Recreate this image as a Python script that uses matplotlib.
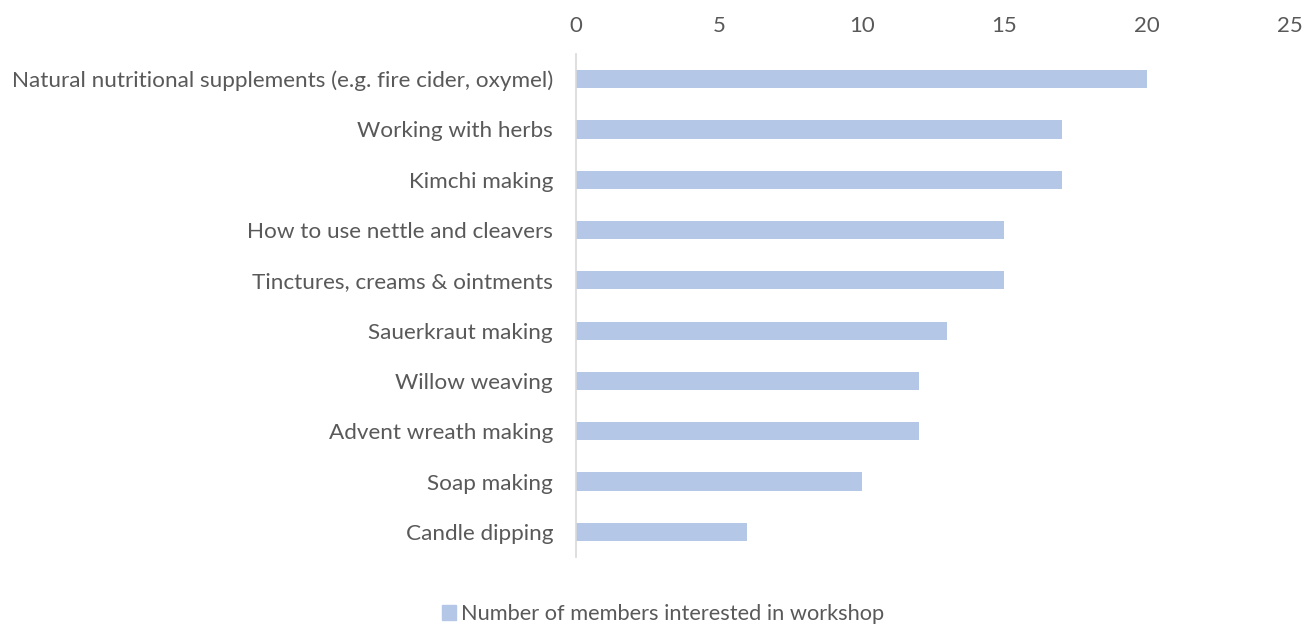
import matplotlib.pyplot as plt
from matplotlib.patches import Patch

workshops = [
    "Natural nutritional supplements (e.g. fire cider, oxymel)",
    "Working with herbs",
    "Kimchi making",
    "How to use nettle and cleavers",
    "Tinctures, creams & ointments",
    "Sauerkraut making",
    "Willow weaving",
    "Advent wreath making",
    "Soap making",
    "Candle dipping",
]
members = [20, 17, 17, 15, 15, 13, 12, 12, 10, 6]
series_name = "Number of members interested in workshop"
x_ticks = [0, 5, 10, 15, 20, 25]

bar_color = "#B4C7E7"
text_color = "#595959"

plt.rcParams['font.family'] = ['Lato', 'DejaVu Sans']

fig = plt.figure(figsize=(13.05, 6.26), dpi=100)
ax = fig.add_axes([576 / 1305, 1 - 557 / 626, (1290 - 576) / 1305, (557 - 54) / 626])

pos = list(range(len(workshops)))
ax.barh(pos, members, height=0.36, color=bar_color)
ax.set_ylim(len(workshops) - 0.5, -0.5)
ax.set_xlim(0, 25)

ax.set_yticks(pos)
ax.set_yticklabels(workshops, fontsize=16.2, color=text_color)
ax.set_xticks(x_ticks)
ax.set_xticklabels([str(t) for t in x_ticks], fontsize=16, color=text_color)
ax.xaxis.tick_top()
ax.tick_params(axis='both', length=0)
ax.tick_params(axis='y', pad=16.5)
ax.tick_params(axis='x', pad=13)

for side in ['top', 'right', 'bottom']:
    ax.spines[side].set_visible(False)
ax.spines['left'].set_color('#D9D9D9')
ax.spines['left'].set_linewidth(1.2)

# legend centred under the plot
fig.legend(handles=[Patch(color=bar_color, label=series_name)],
           loc='center', bbox_to_anchor=(663 / 1305, 1 - 614 / 626),
           frameon=False, fontsize=15.7, handlelength=0.65, handleheight=0.65,
           handletextpad=0.2, labelcolor=text_color)

fig.savefig("out.png", dpi=100)
